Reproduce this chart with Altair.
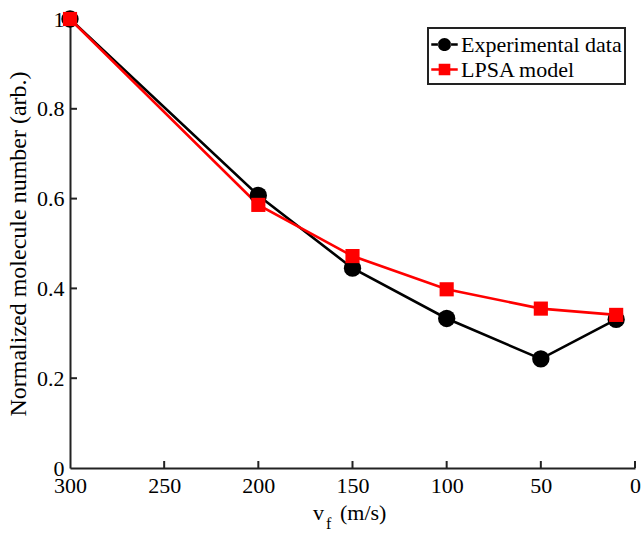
import altair as alt
import pandas as pd

speeds = [300, 200, 150, 100, 50, 10]
exp_values = [1.0, 0.607, 0.445, 0.333, 0.243, 0.331]
lpsa_values = [1.0, 0.586, 0.472, 0.398, 0.355, 0.341]
series_names = ["Experimental data", "LPSA model"]
x_ticks = [300, 250, 200, 150, 100, 50, 0]
y_ticks = [0, 0.2, 0.4, 0.6, 0.8, 1.0]

rows = []
for s, v in zip(speeds, exp_values):
    rows.append({"v": s, "n": v, "series": series_names[0]})
for s, v in zip(speeds, lpsa_values):
    rows.append({"v": s, "n": v, "series": series_names[1]})
df = pd.DataFrame(rows)

W, H = 565, 449
FONT = "Liberation Serif"

xscale = alt.Scale(domain=[0, 300], reverse=True, nice=False)
yscale = alt.Scale(domain=[0, 1], nice=False)
cscale = alt.Scale(domain=series_names, range=["#000000", "#ff0000"])

circ_path = ("M-0.5,0A0.5,0.5 0 1,0 0.5,0A0.5,0.5 0 1,0 -0.5,0Z "
             "M-1,-0.09H-0.47V0.09H-1Z M0.47,-0.09H1V0.09H0.47Z")
sq_path = ("M-0.44,-0.44H0.44V0.44H-0.44Z "
           "M-1,-0.09H-0.42V0.09H-1Z M0.42,-0.09H1V0.09H0.42Z")

leg = alt.Legend(title=None, orient="none", legendX=358, legendY=9,
                 labelFont=FONT, labelFontSize=22, labelColor="black",
                 symbolSize=700, symbolStrokeWidth=0,
                 strokeColor="#222222", fillColor="white",
                 padding=3, rowPadding=-1, labelOffset=3, labelLimit=300)

xenc = alt.X("v:Q", scale=xscale,
             axis=alt.Axis(values=x_ticks, ticks=False, grid=False, title=None,
                           labelFont=FONT, labelFontSize=22, labelColor="black",
                           labelPadding=7, domainColor="#222222", domainWidth=2,
                           labelFlush=False))
yenc = alt.Y("n:Q", scale=yscale,
             axis=alt.Axis(values=y_ticks, ticks=False, grid=False, format="~g",
                           title="Normalized molecule number (arb.)",
                           titleFont=FONT, titleFontSize=24, titleFontWeight="normal",
                           titleColor="black", titlePadding=6,
                           labelFont=FONT, labelFontSize=22, labelColor="black",
                           labelPadding=6, domainColor="#222222", domainWidth=2,
                           labelFlush=False))

base = alt.Chart(df)

lines = base.mark_line(strokeWidth=2.6).encode(
    x=xenc, y=yenc,
    color=alt.Color("series:N", scale=cscale, legend=leg),
    detail="series:N",
)

circles = base.transform_filter(alt.datum.series == series_names[0]).mark_circle(
    size=300, opacity=1).encode(
    x="v:Q", y="n:Q",
    color=alt.Color("series:N", scale=cscale, legend=leg),
)
squares = base.transform_filter(alt.datum.series == series_names[1]).mark_square(
    size=200, opacity=1).encode(
    x="v:Q", y="n:Q",
    color=alt.Color("series:N", scale=cscale, legend=leg),
)

# legend-only layer, clipped away from the plot
legend_layer = base.mark_point(filled=True, opacity=1, clip=True).encode(
    x=alt.value(-500), y=alt.value(-500),
    color=alt.Color("series:N", scale=cscale, legend=leg),
    shape=alt.Shape("series:N",
                    scale=alt.Scale(domain=series_names, range=[circ_path, sq_path]),
                    legend=leg),
)

tick_df_y = pd.DataFrame({"t": y_ticks[1:-1]})
yticks = alt.Chart(tick_df_y).mark_rule(color="#222222", strokeWidth=2).encode(
    y=alt.Y("t:Q", scale=yscale), x=alt.value(0), x2=alt.value(7))
tick_df_x = pd.DataFrame({"t": x_ticks[1:]})
xticks = alt.Chart(tick_df_x).mark_rule(color="#222222", strokeWidth=2).encode(
    x=alt.X("t:Q", scale=xscale), y=alt.value(H), y2=alt.value(H - 7))

title_df = pd.DataFrame({"a": [0]})
t_v = alt.Chart(title_df).mark_text(font=FONT, fontSize=22, align="left", color="black").encode(
    x=alt.value(243), y=alt.value(501), text=alt.value("v"))
t_f = alt.Chart(title_df).mark_text(font=FONT, fontSize=16, align="left", color="black").encode(
    x=alt.value(256), y=alt.value(510), text=alt.value("f"))
t_u = alt.Chart(title_df).mark_text(font=FONT, fontSize=22, align="left", color="black").encode(
    x=alt.value(270), y=alt.value(501), text=alt.value("(m/s)"))

chart = alt.layer(lines, circles, squares, legend_layer, yticks, xticks, t_v, t_f, t_u).properties(
    width=W, height=H,
    autosize=alt.AutoSizeParams(type="none"),
    padding={"left": 70, "top": 19, "right": 7, "bottom": 65},
).configure_view(stroke=None).configure_text(baseline="alphabetic").configure_legend(
    strokeWidth=2
)

chart.save("out.html", embed_options={"renderer": "svg", "actions": False})
